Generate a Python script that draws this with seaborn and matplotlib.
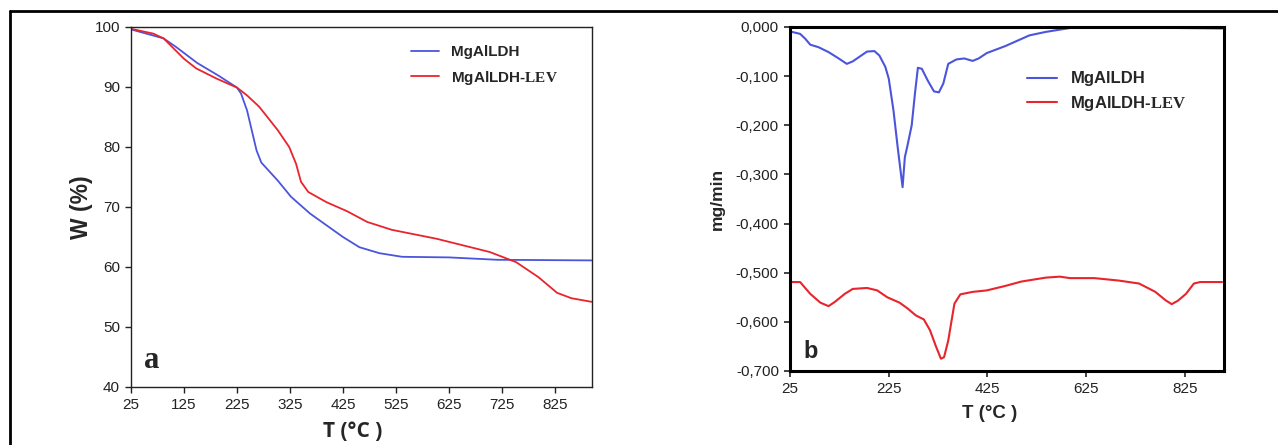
import numpy as np
import pandas as pd
import matplotlib
matplotlib.use("Agg")
import matplotlib.pyplot as plt
from matplotlib.lines import Line2D
from matplotlib.ticker import FuncFormatter
import seaborn as sns

# ---------------- data ----------------
# (a) TG curves, weight %
T_TG_LDH = [25, 86.5, 109.6, 150, 190, 225, 232.7, 244, 262, 271, 302, 327,
            363, 425, 456, 494, 536.5, 625, 717, 894]
W_LDH = [99.6, 98.1, 96.7, 94.0, 91.9, 89.9, 88.9, 86.1, 79.4, 77.4, 74.4, 71.7,
         68.9, 65.0, 63.3, 62.3, 61.7, 61.6, 61.2, 61.1]

T_TG_LEV = [25, 67, 86.5, 125, 148, 186.5, 225, 244, 267, 302, 323.5, 336.5,
            345.8, 359.6, 394, 432.7, 471, 517, 602, 702, 752, 794, 829, 856, 894]
W_LEV = [99.7, 98.9, 98.1, 94.7, 93.1, 91.4, 89.9, 88.6, 86.7, 82.8, 80.0, 77.2,
         74.2, 72.5, 70.8, 69.3, 67.5, 66.2, 64.7, 62.5, 60.8, 58.3, 55.7, 54.8, 54.2]

# (b) DTG curves, mg/min
T_DTG_LDH = [25, 45.5, 56, 66, 82.5, 103, 123.6, 140, 152, 181, 196, 206, 218, 225,
             234.6, 243, 253, 257.6, 263, 271.5, 278, 284, 292, 304, 316.6, 326.6,
             335.5, 345.5, 362, 378, 395, 407, 423.6, 460.6, 510, 543, 592, 625, 900]
D_LDH = [-0.009, -0.014, -0.024, -0.036, -0.041, -0.051, -0.064, -0.075, -0.070,
         -0.050, -0.049, -0.058, -0.081, -0.105, -0.170, -0.244, -0.326, -0.265,
         -0.241, -0.200, -0.136, -0.083, -0.085, -0.109, -0.131, -0.133, -0.115,
         -0.075, -0.066, -0.064, -0.069, -0.064, -0.053, -0.039, -0.017, -0.010,
         -0.002, 0.000, -0.003]

T_DTG_LEV = [25, 45.5, 66, 86.6, 103, 115, 136, 152, 181, 201.7, 222, 247, 263.5,
             280, 296, 308.5, 321, 330.7, 337, 345.5, 358, 370, 395, 423.6, 460.6,
             493.5, 543, 571.6, 592, 641.5, 691, 732, 765, 785.6, 798, 810.6, 827,
             843, 855.6, 900]
D_LEV = [-0.519, -0.519, -0.543, -0.561, -0.568, -0.560, -0.543, -0.533, -0.531,
         -0.536, -0.550, -0.561, -0.573, -0.587, -0.595, -0.617, -0.651, -0.675,
         -0.672, -0.638, -0.563, -0.544, -0.539, -0.536, -0.527, -0.518, -0.510,
         -0.508, -0.511, -0.511, -0.516, -0.522, -0.539, -0.556, -0.564, -0.557,
         -0.543, -0.522, -0.519, -0.519]

LABELS = ["MgAlLDH", r"MgAlLDH-$\mathbf{LEV}$"]
TG_YTICKS = [40, 50, 60, 70, 80, 90, 100]
TG_XTICKS = [25, 125, 225, 325, 425, 525, 625, 725, 825]
DTG_YTICKS = [0.0, -0.1, -0.2, -0.3, -0.4, -0.5, -0.6, -0.7]
DTG_XTICKS = [25, 225, 425, 625, 825]

BLUE = "#4b55dc"
RED = "#e8242c"

# ---------------- style ----------------
sns.set_style("ticks")
plt.rcParams["font.family"] = ["Liberation Sans", "DejaVu Sans"]
plt.rcParams["mathtext.fontset"] = "custom"
plt.rcParams["mathtext.bf"] = "Liberation Serif:bold"
plt.rcParams["mathtext.rm"] = "Liberation Serif"

W, H = 1278, 445
fig = plt.figure(figsize=(W / 100, H / 100), dpi=100)

# outer frame (top + left edge)
fig.add_artist(Line2D([10 / W, 1], [1 - 11 / H] * 2, color="black", lw=2))
fig.add_artist(Line2D([10 / W] * 2, [0, 1 - 11 / H], color="black", lw=2))

ax1 = fig.add_axes([131 / W, 58 / H, 461 / W, 360 / H])
ax2 = fig.add_axes([790 / W, 74 / H, 434 / W, 344 / H])

# ---------------- (a) TG ----------------
tg1 = pd.DataFrame({"T": T_TG_LDH, "W": W_LDH})
tg2 = pd.DataFrame({"T": T_TG_LEV, "W": W_LEV})
sns.lineplot(data=tg1, x="T", y="W", color=BLUE, lw=1.3, ax=ax1, label=LABELS[0])
sns.lineplot(data=tg2, x="T", y="W", color=RED, lw=1.3, ax=ax1, label=LABELS[1])
ax1.set_xlim(25, 895)
ax1.set_ylim(40, 100)
ax1.set_xticks(TG_XTICKS)
ax1.set_yticks(TG_YTICKS)
ax1.tick_params(labelsize=11, colors="#222222", length=4, width=1, pad=4)
for s in ax1.spines.values():
    s.set_linewidth(1.0)
    s.set_color("#222222")
ax1.set_xlabel("T (°C )", fontsize=15, fontweight="bold", family="Open Sans")
ax1.xaxis.set_label_coords(0.48, -0.095)
ax1.set_ylabel("W (%)", fontsize=16.5, fontweight="bold", labelpad=1)
ax1.text(0.028, 0.075, "a", transform=ax1.transAxes, fontsize=22, fontweight="bold",
         family="Liberation Serif", va="center", ha="left")
ax1.legend(loc="upper left", bbox_to_anchor=(0.59, 0.97), frameon=False,
           borderpad=0, handlelength=1.85, handletextpad=0.8, labelspacing=0.6,
           prop={"size": 11, "weight": "bold"})

# ---------------- (b) DTG ----------------
d1 = pd.DataFrame({"T": T_DTG_LDH, "D": D_LDH})
d2 = pd.DataFrame({"T": T_DTG_LEV, "D": D_LEV})
sns.lineplot(data=d1, x="T", y="D", color=BLUE, lw=1.5, ax=ax2, label=LABELS[0])
sns.lineplot(data=d2, x="T", y="D", color=RED, lw=1.5, ax=ax2, label=LABELS[1])
ax2.set_xlim(25, 904)
ax2.set_ylim(-0.7, 0.0)
ax2.set_xticks(DTG_XTICKS)
ax2.set_yticks(DTG_YTICKS)
ax2.yaxis.set_major_formatter(
    FuncFormatter(lambda v, p: f"{v:.3f}".replace(".", ",").replace("-0,000", "0,000")))
ax2.tick_params(labelsize=11, colors="#222222", length=4, width=1.2, pad=4)
for s in ax2.spines.values():
    s.set_linewidth(2.2)
    s.set_color("black")
ax2.set_xlabel("T (°C )", fontsize=13.5, fontweight="bold")
ax2.xaxis.set_label_coords(0.46, -0.1)
ax2.set_ylabel("mg/min", fontsize=12.5, fontweight="bold", labelpad=8)
ax2.text(0.03, 0.058, "b", transform=ax2.transAxes, fontsize=17, fontweight="bold",
         va="center", ha="left")
ax2.legend(loc="upper left", bbox_to_anchor=(0.526, 0.895), frameon=False,
           borderpad=0, handlelength=1.85, handletextpad=0.78, labelspacing=0.45,
           prop={"size": 12, "weight": "bold"})

fig.savefig("out.png", dpi=100, facecolor="white")
